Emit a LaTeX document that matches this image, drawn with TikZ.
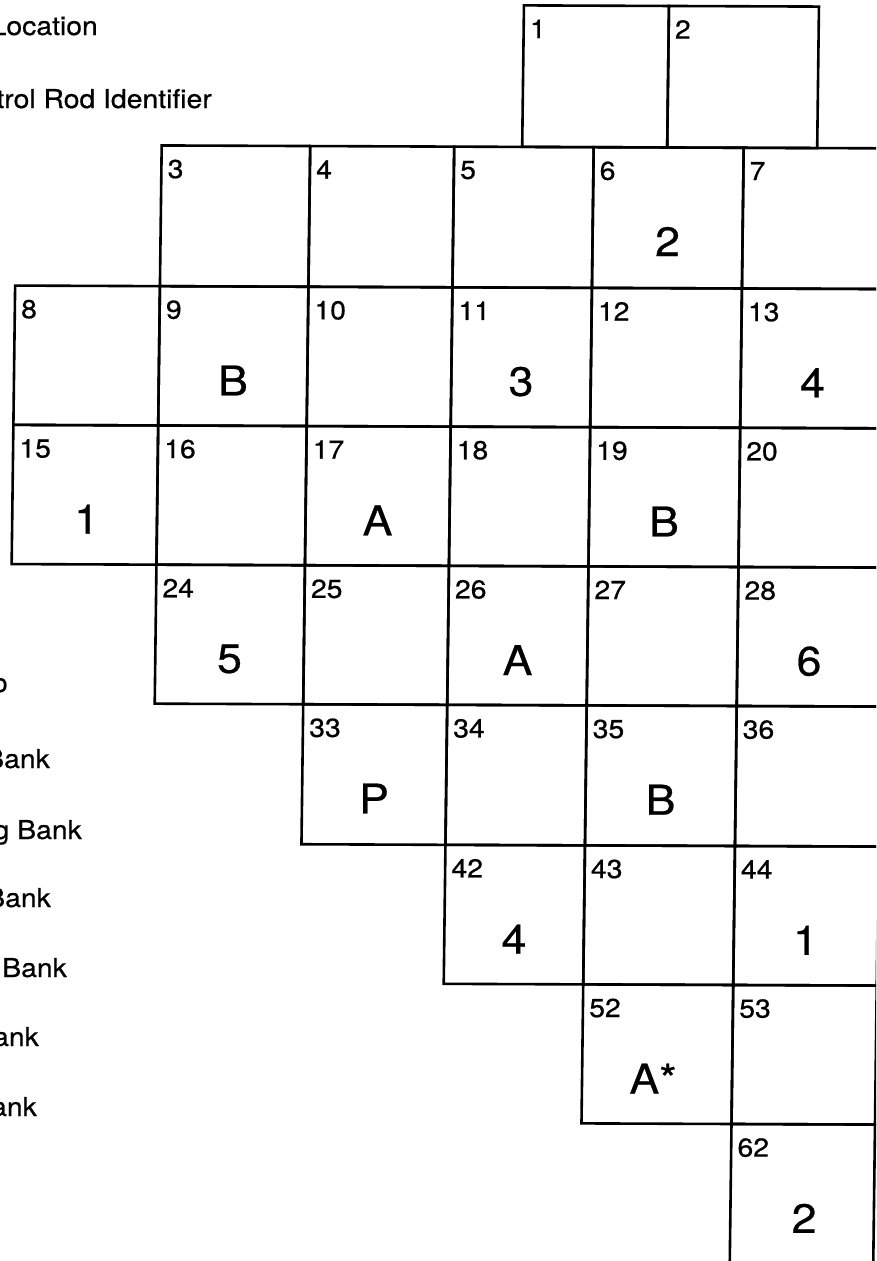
\documentclass[tikz,border=0pt]{standalone}
\usepackage{fontspec}
\setmainfont{TeX Gyre Heros}[FakeStretch=1.09,FakeBold=0.6]
\begin{document}
\def\colA{18.7}\def\colB{163.5}\def\colC{312}\def\colD{456}\def\colE{595.5}\def\colF{745.5}\def\colG{889}
\def\topA{524}\def\topB{669}\def\topC{819}
\def\rowA{3.3}\def\rowB{144.8}\def\rowC{285.5}\def\rowD{424.8}\def\rowE{564}\def\rowF{703}\def\rowG{843}\def\rowH{982}\def\rowI{1121}\def\rowJ{1320}
\newcommand\mycell[5]{%
  \draw[gridline] (#1,-#3) -- (#2,-#3) -- (#2,-#4) -- (#1,-#4) -- cycle;
  \node[num] (n#5) at ({#1+6},{-#3-14}) {#5};}
\newcommand\myrod[6]{%
  \node[rod] (r#5) at ({(#1+#2)/2+#6},{-#3-94}) {#4};}
\begin{tikzpicture}[x=1pt,y=1pt,
  gridline/.style={line width=2.6pt, line join=miter, draw=black},
  num/.style={anchor=north west, inner sep=0pt, font=\fontsize{26}{27}\selectfont},
  rod/.style={inner sep=0pt, font=\fontsize{41}{41}\selectfont},
  legend/.style={anchor=base east, inner sep=0pt, font=\fontsize{26}{27}\selectfont}]
\useasboundingbox (0,0) rectangle (876,-1261);
\clip (0,0) rectangle (876,-1261);
\fill[white] (0,0) rectangle (876,-1261);
% legend (cut by the left border)
\node[legend] (t1) at (98,-35) {Location};
\node[legend] (t2) at (212,-108) {Control Rod Identifier};
\node[legend] (t3) at (8,-692) {o};
\node[legend] (t4) at (50,-768) {Shutdown Bank};
\node[legend] (t5) at (82,-839) {Regulating Bank};
\node[legend] (t6) at (51,-907) {Safety Bank};
\node[legend] (t7) at (67,-977) {Shim Bank};
\node[legend] (t8) at (39,-1046) {Control Bank};
\node[legend] (t9) at (37,-1116) {Control Bank};
\begin{scope}[cm={1,-0.004,0.0125,1,(0,0)}]
% row 0
\mycell{\topA}{\topB}{\rowA}{\rowB}{1}
\mycell{\topB}{\topC}{\rowA}{\rowB}{2}
% row 1
\mycell{\colB}{\colC}{\rowB}{\rowC}{3}
\mycell{\colC}{\colD}{\rowB}{\rowC}{4}
\mycell{\colD}{\colE}{\rowB}{\rowC}{5}
\mycell{\colE}{\colF}{\rowB}{\rowC}{6}
\mycell{\colF}{\colG}{\rowB}{\rowC}{7}
% row 2
\mycell{\colA}{\colB}{\rowC}{\rowD}{8}
\mycell{\colB}{\colC}{\rowC}{\rowD}{9}
\mycell{\colC}{\colD}{\rowC}{\rowD}{10}
\mycell{\colD}{\colE}{\rowC}{\rowD}{11}
\mycell{\colE}{\colF}{\rowC}{\rowD}{12}
\mycell{\colF}{\colG}{\rowC}{\rowD}{13}
% row 3
\mycell{\colA}{\colB}{\rowD}{\rowE}{15}
\mycell{\colB}{\colC}{\rowD}{\rowE}{16}
\mycell{\colC}{\colD}{\rowD}{\rowE}{17}
\mycell{\colD}{\colE}{\rowD}{\rowE}{18}
\mycell{\colE}{\colF}{\rowD}{\rowE}{19}
\mycell{\colF}{\colG}{\rowD}{\rowE}{20}
% row 4
\mycell{\colB}{\colC}{\rowE}{\rowF}{24}
\mycell{\colC}{\colD}{\rowE}{\rowF}{25}
\mycell{\colD}{\colE}{\rowE}{\rowF}{26}
\mycell{\colE}{\colF}{\rowE}{\rowF}{27}
\mycell{\colF}{\colG}{\rowE}{\rowF}{28}
% row 5
\mycell{\colC}{\colD}{\rowF}{\rowG}{33}
\mycell{\colD}{\colE}{\rowF}{\rowG}{34}
\mycell{\colE}{\colF}{\rowF}{\rowG}{35}
\mycell{\colF}{\colG}{\rowF}{\rowG}{36}
% row 6
\mycell{\colD}{\colE}{\rowG}{\rowH}{42}
\mycell{\colE}{\colF}{\rowG}{\rowH}{43}
\mycell{\colF}{\colG}{\rowG}{\rowH}{44}
% row 7
\mycell{\colE}{\colF}{\rowH}{\rowI}{52}
\mycell{\colF}{\colG}{\rowH}{\rowI}{53}
% row 8
\mycell{\colF}{\colG}{\rowI}{\rowJ}{62}
% control rod identifiers
\myrod{\colE}{\colF}{\rowB}{2}{6}{0}
\myrod{\colB}{\colC}{\rowC}{B}{9}{0}
\myrod{\colD}{\colE}{\rowC}{3}{11}{0}
\myrod{\colF}{\colG}{\rowC}{4}{13}{0}
\myrod{\colA}{\colB}{\rowD}{1}{15}{2}
\myrod{\colC}{\colD}{\rowD}{A}{17}{0}
\myrod{\colE}{\colF}{\rowD}{B}{19}{0}
\myrod{\colB}{\colC}{\rowE}{5}{24}{0}
\myrod{\colD}{\colE}{\rowE}{A}{26}{0}
\myrod{\colF}{\colG}{\rowE}{6}{28}{0}
\myrod{\colC}{\colD}{\rowF}{P}{33}{0}
\myrod{\colE}{\colF}{\rowF}{B}{35}{0}
\myrod{\colD}{\colE}{\rowG}{4}{42}{0}
\myrod{\colF}{\colG}{\rowG}{1}{44}{0}
\myrod{\colE}{\colF}{\rowH}{A*}{52}{-4}
\myrod{\colF}{\colG}{\rowI}{2}{62}{2}
\end{scope}
\end{tikzpicture}
\end{document}
